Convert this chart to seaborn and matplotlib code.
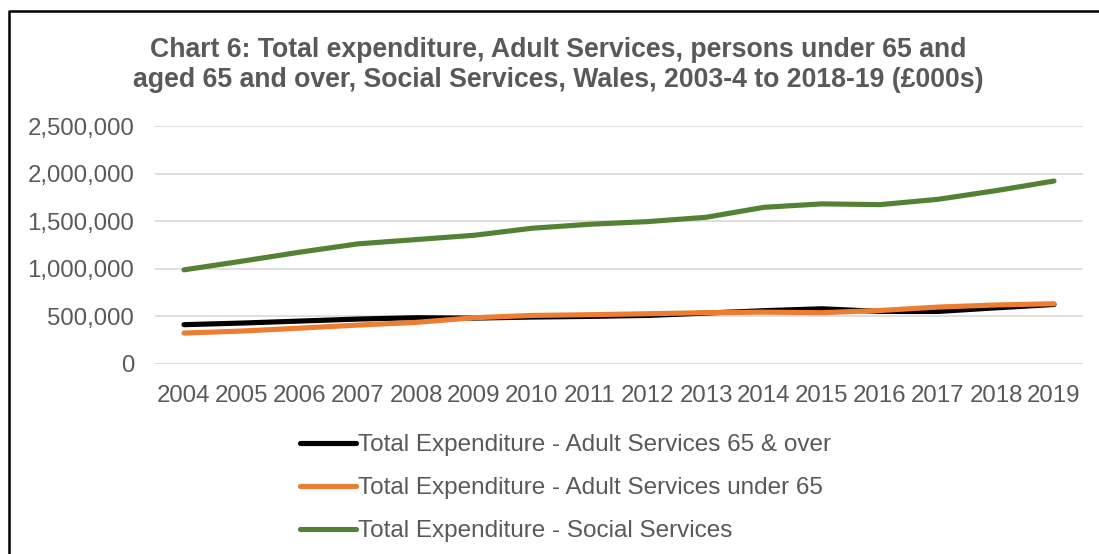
import matplotlib
matplotlib.use("Agg")
import matplotlib.pyplot as plt
from matplotlib.lines import Line2D
from matplotlib.ticker import FuncFormatter
import pandas as pd
import seaborn as sns

# Financial years, labelled by the year in which they end (2003-4 -> 2004)
years = [2004, 2005, 2006, 2007, 2008, 2009, 2010, 2011,
         2012, 2013, 2014, 2015, 2016, 2017, 2018, 2019]

# Expenditure in £000s
adult_65_over = [413000, 430000, 451000, 472000, 486000, 482000, 493000, 500000,
                 510000, 535000, 560000, 580000, 552000, 552000, 590000, 625000]
adult_under_65 = [325000, 346000, 377000, 409000, 437000, 486000, 510000, 518000,
                  528000, 539000, 545000, 539000, 562000, 598000, 620000, 633000]
social_services = [989000, 1080000, 1175000, 1262000, 1307000, 1352000, 1426000, 1468000,
                   1496000, 1541000, 1646000, 1682000, 1674000, 1730000, 1821000, 1922000]

series_names = ["Total Expenditure - Adult Services 65 & over",
                "Total Expenditure - Adult Services under 65",
                "Total Expenditure - Social Services"]
series_colors = ["#000000", "#ED7D31", "#548235"]

title = ("Chart 6: Total expenditure, Adult Services, persons under 65 and\n"
         "aged 65 and over, Social Services, Wales, 2003-4 to 2018-19 (£000s)")

df = pd.concat([
    pd.DataFrame({"year": years, "value": vals, "series": name})
    for name, vals in zip(series_names, [adult_65_over, adult_under_65, social_services])
])

sns.set_theme(style="white")
plt.rcParams["font.family"] = ["Liberation Sans", "DejaVu Sans"]
text_color = "#595959"

fig = plt.figure(figsize=(10.99, 5.54), dpi=100)
ax = fig.add_axes([155 / 1099, 1 - 364 / 554, 928 / 1099, 238 / 554])

# Draw social services first so the two adult-service lines sit on top
palette = dict(zip(series_names, series_colors))
order = [series_names[2], series_names[0], series_names[1]]
for name in order:
    sns.lineplot(data=df[df["series"] == name], x="year", y="value",
                 color=palette[name], linewidth=3.7, ax=ax, legend=False,
                 solid_capstyle="round", solid_joinstyle="round")

ax.set_xlim(2003.5, 2019.5)
ax.set_ylim(0, 2500000)
ax.set_yticks(range(0, 2500001, 500000))
ax.yaxis.set_major_formatter(FuncFormatter(lambda v, p: f"{int(v):,}"))
ax.set_xticks(years)
ax.set_xticklabels([str(y) for y in years])
ax.grid(axis="y", color="#D9D9D9", linewidth=1.2)
ax.set_axisbelow(True)
for s in ax.spines.values():
    s.set_visible(False)
ax.tick_params(axis="both", length=0, labelsize=17.3, colors=text_color)
ax.tick_params(axis="y", pad=15)
ax.tick_params(axis="x", pad=15)
ax.set_xlabel("")
ax.set_ylabel("")

fig.text(0.508, 1 - 65 / 554, title, ha="center", va="center",
         fontsize=19.2, fontweight="bold", color=text_color, linespacing=1.2)

handles = [Line2D([], [], color=c, linewidth=3.7, solid_capstyle="round")
           for c in series_colors]
leg = fig.legend(handles, series_names, loc="upper left",
                 bbox_to_anchor=(288 / 1099, 1 - 422 / 554), frameon=False,
                 fontsize=17.5, handlelength=2.3, handletextpad=0.1,
                 labelspacing=0.87, borderpad=0)
for t in leg.get_texts():
    t.set_color(text_color)

# Chart frame (top and left edges)
fig.add_artist(Line2D([9 / 1099, 9 / 1099, 1.0], [0.0, 1 - 10.5 / 554, 1 - 10.5 / 554],
                      transform=fig.transFigure, color="#000000", linewidth=1.8))

fig.savefig("out.png", dpi=100, facecolor="white")
